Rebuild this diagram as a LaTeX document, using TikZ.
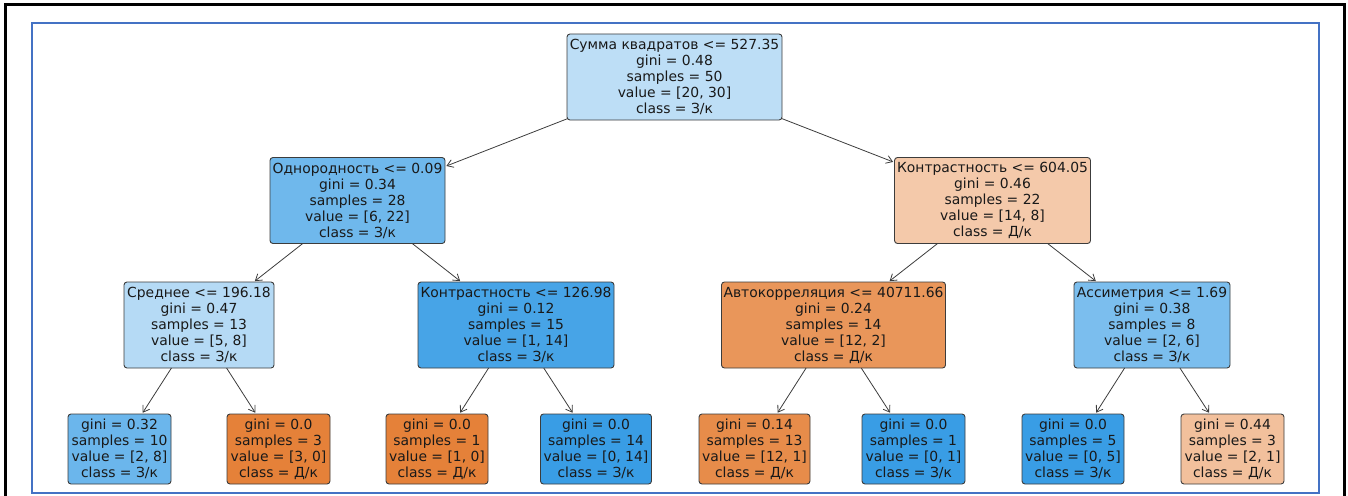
\documentclass[tikz,border=0pt]{standalone}
\usepackage{fontspec}
\setmainfont{DejaVu Sans}
\usetikzlibrary{arrows.meta}
\definecolor{frameblue}{RGB}{68,114,196}
\definecolor{cRoot}{RGB}{189,222,246}
\definecolor{cA}{RGB}{111,184,236}
\definecolor{cB}{RGB}{244,201,170}
\definecolor{cC}{RGB}{181,218,245}
\definecolor{cD}{RGB}{71,164,231}
\definecolor{cE}{RGB}{233,150,90}
\definecolor{cF}{RGB}{123,190,238}
\definecolor{cLa}{RGB}{107,182,236}
\definecolor{cOr}{RGB}{229,129,57}
\definecolor{cBl}{RGB}{57,157,229}
\definecolor{cLe}{RGB}{231,140,74}
\definecolor{cLh}{RGB}{242,192,156}
\definecolor{edgegray}{RGB}{60,60,60}
\begin{document}
\begin{tikzpicture}[x=1pt,y=-1pt,
  tn/.style={draw=edgegray, line width=0.9pt, rounded corners=3pt, align=center,
    inner sep=0pt, outer sep=0pt, font=\fontsize{13.9}{16}\selectfont, text=black!90},
  innernode/.style={tn, minimum height=86pt},
  leafnode/.style={tn, minimum height=70pt},
  edge/.style={draw=edgegray, line width=0.8pt,
    -{Straight Barb[length=6pt,width=8pt]}, shorten >=1.5pt}]
\useasboundingbox (0,0) rectangle (1348,495);
\clip (0,0) rectangle (1348,495);
\draw[line width=3pt, black] (5,520) -- (5,5) -- (1344,5) -- (1344,520);
\draw[line width=2.4pt, frameblue] (32,23) rectangle (1319,493);

\node[innernode, minimum width=215pt, fill=cRoot] (root) at (674.5,77)
  {Сумма квадратов <= 527.35\\gini = 0.48\\samples = 50\\value = [20, 30]\\class = З/к};
\node[innernode, minimum width=175pt, fill=cA] (A) at (357.5,200.5)
  {Однородность <= 0.09\\gini = 0.34\\samples = 28\\value = [6, 22]\\class = З/к};
\node[innernode, minimum width=196pt, fill=cB] (B) at (992.5,200.5)
  {Контрастность <= 604.05\\gini = 0.46\\samples = 22\\value = [14, 8]\\class = Д/к};
\node[innernode, minimum width=150pt, fill=cC] (C) at (199,325)
  {Среднее <= 196.18\\gini = 0.47\\samples = 13\\value = [5, 8]\\class = З/к};
\node[innernode, minimum width=196pt, fill=cD] (D) at (516,325)
  {Контрастность <= 126.98\\gini = 0.12\\samples = 15\\value = [1, 14]\\class = З/к};
\node[innernode, minimum width=224pt, fill=cE] (E) at (833.5,325)
  {Автокорреляция <= 40711.66\\gini = 0.24\\samples = 14\\value = [12, 2]\\class = Д/к};
\node[innernode, minimum width=156pt, fill=cF] (F) at (1152,325)
  {Ассиметрия <= 1.69\\gini = 0.38\\samples = 8\\value = [2, 6]\\class = З/к};

\node[leafnode, minimum width=103pt, fill=cLa] (L1) at (119.5,449)
  {gini = 0.32\\samples = 10\\value = [2, 8]\\class = З/к};
\node[leafnode, minimum width=103pt, fill=cOr] (L2) at (278.5,449)
  {gini = 0.0\\samples = 3\\value = [3, 0]\\class = Д/к};
\node[leafnode, minimum width=102pt, fill=cOr] (L3) at (437,449)
  {gini = 0.0\\samples = 1\\value = [1, 0]\\class = Д/к};
\node[leafnode, minimum width=111pt, fill=cBl] (L4) at (596,449)
  {gini = 0.0\\samples = 14\\value = [0, 14]\\class = З/к};
\node[leafnode, minimum width=111pt, fill=cLe] (L5) at (754.5,449)
  {gini = 0.14\\samples = 13\\value = [12, 1]\\class = Д/к};
\node[leafnode, minimum width=103pt, fill=cBl] (L6) at (913.5,449)
  {gini = 0.0\\samples = 1\\value = [0, 1]\\class = З/к};
\node[leafnode, minimum width=102pt, fill=cBl] (L7) at (1073,449)
  {gini = 0.0\\samples = 5\\value = [0, 5]\\class = З/к};
\node[leafnode, minimum width=103pt, fill=cLh] (L8) at (1232.5,449)
  {gini = 0.44\\samples = 3\\value = [2, 1]\\class = Д/к};

\foreach \p/\c in {root/A, root/B, A/C, A/D, B/E, B/F, C/L1, C/L2, D/L3, D/L4, E/L5, E/L6, F/L7, F/L8}
  \draw[edge] (\p) -- (\c);
\end{tikzpicture}
\end{document}
